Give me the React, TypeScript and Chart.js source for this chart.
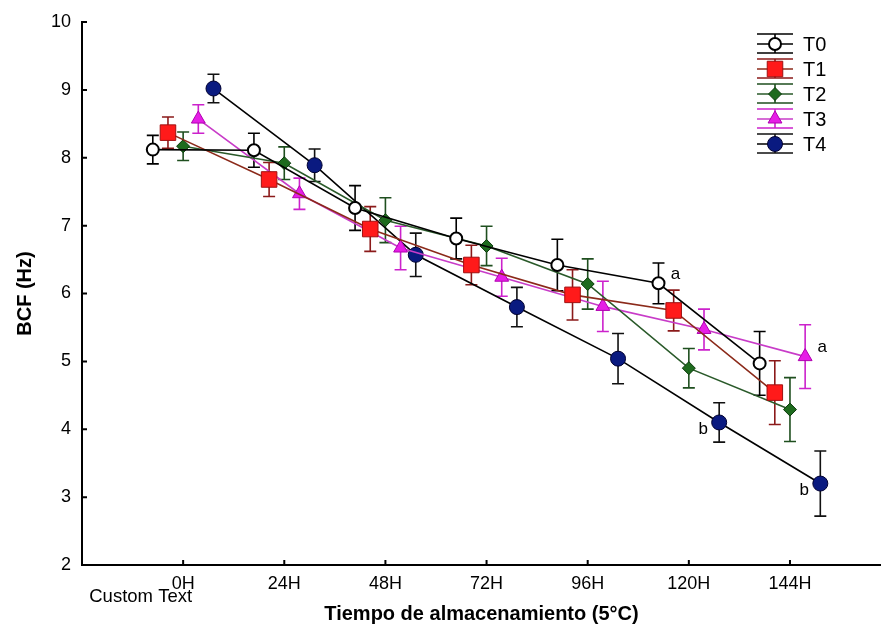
import React, { useEffect, useRef } from "react";
import { Chart, registerables } from "chart.js";

Chart.register(...registerables);

const categories = ["0H", "24H", "48H", "72H", "96H", "120H", "144H"];
const seriesNames = ["T0", "T1", "T2", "T3", "T4"];
const seriesOffsets = [-0.3, -0.15, 0, 0.15, 0.3];

const t0Values = [8.12, 8.11, 7.26, 6.81, 6.42, 6.15, 4.97];
const t0Errors = [0.21, 0.25, 0.33, 0.3, 0.38, 0.3, 0.47];
const t1Values = [8.37, 7.68, 6.95, 6.42, 5.98, 5.75, 4.54];
const t1Errors = [0.23, 0.25, 0.33, 0.29, 0.37, 0.3, 0.47];
const t2Values = [8.17, 7.92, 7.08, 6.7, 6.14, 4.9, 4.29];
const t2Errors = [0.21, 0.24, 0.33, 0.29, 0.37, 0.29, 0.47];
const t3Values = [8.57, 7.47, 6.67, 6.24, 5.81, 5.47, 5.07];
const t3Errors = [0.21, 0.23, 0.32, 0.28, 0.37, 0.3, 0.47];
const t4Values = [9.02, 7.89, 6.57, 5.8, 5.04, 4.1, 3.2];
const t4Errors = [0.21, 0.24, 0.32, 0.29, 0.37, 0.29, 0.48];

const allValues = [t0Values, t1Values, t2Values, t3Values, t4Values];
const allErrors = [t0Errors, t1Errors, t2Errors, t3Errors, t4Errors];

const yTicks = [2, 3, 4, 5, 6, 7, 8, 9, 10];
const customTickText = "Custom Text";
const customTickPos = -0.42;

const letterNotes = [
  { series: 0, index: 5, text: "a", side: "right" },
  { series: 3, index: 6, text: "a", side: "right" },
  { series: 4, index: 5, text: "b", side: "left" },
  { series: 4, index: 6, text: "b", side: "left" },
];

const FONT = "'Liberation Sans', Arial, Helvetica, sans-serif";

const styles = [
  { line: "#000000", err: "#000000", fill: "#ffffff", border: "#000000", bw: 2, shape: "circle", r: 6 },
  { line: "#8b2a1a", err: "#8b1a1a", fill: "#ff1a1a", border: "#a01010", bw: 1, shape: "rect", r: 11 },
  { line: "#2a5a2a", err: "#1f4f1f", fill: "#1e6b1e", border: "#0a3a0a", bw: 1, shape: "rectRot", r: 6.5 },
  { line: "#c83cc8", err: "#cc22cc", fill: "#e61ee6", border: "#b000b0", bw: 1, shape: "triangle", r: 8 },
  { line: "#000000", err: "#111111", fill: "#0a1a80", border: "#000030", bw: 1, shape: "circle", r: 7.5 },
];

function drawMarker(ctx: CanvasRenderingContext2D, shape: string, x: number, y: number, r: number) {
  ctx.beginPath();
  if (shape === "circle") {
    ctx.arc(x, y, r, 0, Math.PI * 2);
  } else if (shape === "rect") {
    const s = Math.SQRT1_2 * r;
    ctx.rect(x - s, y - s, 2 * s, 2 * s);
  } else if (shape === "rectRot") {
    ctx.moveTo(x - r, y);
    ctx.lineTo(x, y - r);
    ctx.lineTo(x + r, y);
    ctx.lineTo(x, y + r);
    ctx.closePath();
  } else if (shape === "triangle") {
    const k = Math.sin((Math.PI * 2) / 3) * r;
    ctx.moveTo(x, y - r);
    ctx.lineTo(x + k, y + r * 0.5);
    ctx.lineTo(x - k, y + r * 0.5);
    ctx.closePath();
  }
  ctx.fill();
  ctx.stroke();
}

const errorBarPlugin = {
  id: "errorBars",
  beforeDatasetsDraw(chart: any) {
    const ctx = chart.ctx;
    const y = chart.scales.y;
    ctx.save();
    allValues.forEach((vals, si) => {
      const meta = chart.getDatasetMeta(si);
      ctx.strokeStyle = styles[si].err;
      ctx.lineWidth = 1.6;
      vals.forEach((v, j) => {
        const px = meta.data[j].x;
        const top = y.getPixelForValue(v + allErrors[si][j]);
        const bot = y.getPixelForValue(v - allErrors[si][j]);
        ctx.beginPath();
        ctx.moveTo(px, top);
        ctx.lineTo(px, bot);
        ctx.moveTo(px - 6, top);
        ctx.lineTo(px + 6, top);
        ctx.moveTo(px - 6, bot);
        ctx.lineTo(px + 6, bot);
        ctx.stroke();
      });
    });
    ctx.restore();
  },
};

const decorPlugin = {
  id: "decor",
  afterDraw(chart: any) {
    const ctx = chart.ctx;
    const area = chart.chartArea;
    const xs = chart.scales.x;
    const ys = chart.scales.y;
    ctx.save();
    ctx.strokeStyle = "#000";
    ctx.lineWidth = 2;
    ctx.beginPath();
    yTicks.forEach((t) => {
      const py = ys.getPixelForValue(t);
      ctx.moveTo(area.left, py);
      ctx.lineTo(area.left + 5, py);
    });
    categories.forEach((_, i) => {
      const px = xs.getPixelForValue(i);
      ctx.moveTo(px, area.bottom);
      ctx.lineTo(px, area.bottom - 5);
    });
    ctx.stroke();

    ctx.fillStyle = "#000";
    ctx.font = `18.5px ${FONT}`;
    ctx.textAlign = "center";
    ctx.textBaseline = "middle";
    ctx.fillText(customTickText, xs.getPixelForValue(customTickPos), area.bottom + 32);

    ctx.font = `17px ${FONT}`;
    letterNotes.forEach((n) => {
      const el = chart.getDatasetMeta(n.series).data[n.index];
      const dx = n.side === "right" ? 17 : -16;
      const dy = n.side === "right" ? -9 : 7;
      ctx.fillText(n.text, el.x + dx, el.y + dy);
    });

    const cx = area.right - 106;
    const half = 18;
    seriesNames.forEach((name, i) => {
      const cy = area.top + 22 + i * 25;
      const s = styles[i];
      ctx.strokeStyle = s.err;
      ctx.lineWidth = 1.6;
      ctx.beginPath();
      ctx.moveTo(cx - half, cy - 10);
      ctx.lineTo(cx + half, cy - 10);
      ctx.moveTo(cx - half, cy + 9);
      ctx.lineTo(cx + half, cy + 9);
      ctx.moveTo(cx, cy - 10);
      ctx.lineTo(cx, cy + 9);
      ctx.stroke();
      ctx.strokeStyle = s.line;
      ctx.beginPath();
      ctx.moveTo(cx - half, cy);
      ctx.lineTo(cx + half, cy);
      ctx.stroke();
      ctx.fillStyle = s.fill;
      ctx.strokeStyle = s.border;
      ctx.lineWidth = s.bw;
      drawMarker(ctx, s.shape, cx, cy, s.r);
      ctx.fillStyle = "#000";
      ctx.font = `20px ${FONT}`;
      ctx.textAlign = "left";
      ctx.textBaseline = "middle";
      ctx.fillText(name, cx + 28, cy + 1);
    });
    ctx.restore();
  },
};

export default function App() {
  const ref = useRef<HTMLCanvasElement>(null);
  useEffect(() => {
    document.body.style.margin = "0";
    const datasets = seriesNames.map((name, si) => ({
      label: name,
      data: allValues[si].map((v, j) => ({ x: j + seriesOffsets[si], y: v })),
      borderColor: styles[si].line,
      borderWidth: 1.6,
      pointStyle: styles[si].shape,
      pointRadius: styles[si].r,
      pointBackgroundColor: styles[si].fill,
      pointBorderColor: styles[si].border,
      pointBorderWidth: styles[si].bw,
      fill: false,
      tension: 0,
    }));
    const chart = new Chart(ref.current!, {
      type: "line",
      data: { datasets },
      options: {
        animation: false,
        responsive: false,
        layout: { autoPadding: false, padding: { top: 22, right: 0, left: 0, bottom: 0 } },
        plugins: { legend: { display: false }, tooltip: { enabled: false } },
        scales: {
          x: {
            type: "linear",
            min: -1,
            max: 6.9,
            afterBuildTicks: (s: any) => {
              s.ticks = categories.map((_, i) => ({ value: i }));
            },
            afterFit: (s: any) => {
              s.height = 63;
              s.paddingRight = 0;
              s.paddingLeft = 0;
            },
            ticks: {
              autoSkip: false,
              maxRotation: 0,
              padding: 8,
              color: "#000",
              font: { family: FONT, size: 18 },
              callback: (v: any) => categories[Math.round(v)] ?? "",
            },
            grid: { display: false, drawTicks: false, tickLength: 0 },
            border: { display: true, color: "#000", width: 2 },
            title: {
              display: true,
              text: "Tiempo de almacenamiento (5°C)",
              color: "#000",
              font: { family: FONT, size: 20, weight: "bold" },
              padding: { top: 0, bottom: 2 },
            },
          },
          y: {
            type: "linear",
            min: 2,
            max: 10,
            afterBuildTicks: (s: any) => {
              s.ticks = yTicks.map((v) => ({ value: v }));
            },
            afterFit: (s: any) => {
              s.width = 82;
            },
            ticks: {
              padding: 11,
              color: "#000",
              font: { family: FONT, size: 18 },
              callback: (v: any) => String(v),
            },
            grid: { display: false, drawTicks: false, tickLength: 0 },
            border: { display: true, color: "#000", width: 2 },
            title: {
              display: true,
              text: "BCF (Hz)",
              color: "#000",
              font: { family: FONT, size: 20, weight: "bold" },
              padding: { top: 13, bottom: 0 },
            },
          },
        },
      },
      plugins: [errorBarPlugin, decorPlugin],
    } as any);
    return () => chart.destroy();
  }, []);
  return (
    <div style={{ width: 881, height: 628 }}>
      <canvas ref={ref} width={881} height={628} style={{ display: "block" }} />
    </div>
  );
}
